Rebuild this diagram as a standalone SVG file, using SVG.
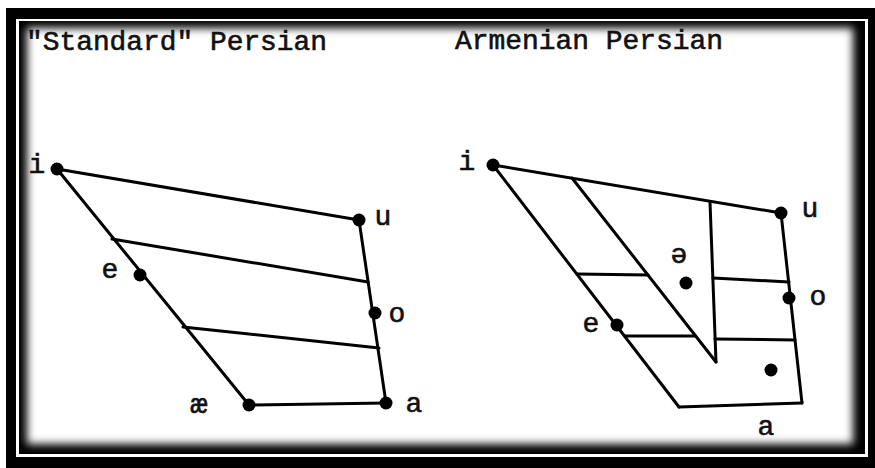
<svg xmlns="http://www.w3.org/2000/svg" width="875" height="468" viewBox="0 0 875 468">
<defs>
<style>
.ln{stroke:#000;stroke-width:3;fill:none;stroke-linecap:round;stroke-linejoin:round}
.dot{fill:#000}
.t{font-family:"Liberation Mono","Courier New",monospace;fill:#111;stroke:#111;stroke-width:0.6}
.title{font-size:27px}
.lab{font-size:28px;text-anchor:middle}
</style>
<filter id="blur" x="-5%" y="-5%" width="110%" height="110%"><feGaussianBlur stdDeviation="4"/></filter>
</defs>
<rect x="0" y="0" width="875" height="468" fill="#fff"/>
<g id="frame">
<rect x="6" y="8" width="869" height="460" fill="#000"/>
<rect x="16" y="19" width="852" height="438" fill="#fff"/>
<rect x="19" y="21" width="846" height="433" fill="#000"/>
<rect x="27" y="28" width="826" height="416" fill="#fff" filter="url(#blur)"/>
</g>
<text class="t title" x="26" y="50" textLength="301" lengthAdjust="spacingAndGlyphs">"Standard" Persian</text>
<text class="t title" x="455" y="49" textLength="268" lengthAdjust="spacingAndGlyphs">Armenian Persian</text>
<g id="connectors">
<line class="ln" x1="57" y1="169" x2="359" y2="220"/>
<line class="ln" x1="57" y1="169" x2="249" y2="405"/>
<line class="ln" x1="359" y1="220" x2="386" y2="403"/>
<line class="ln" x1="249" y1="405" x2="386" y2="403"/>
<line class="ln" x1="112" y1="239" x2="368" y2="282"/>
<line class="ln" x1="183" y1="327" x2="379" y2="348"/>
<line class="ln" x1="493" y1="165" x2="781" y2="213"/>
<line class="ln" x1="493" y1="165" x2="679" y2="407"/>
<line class="ln" x1="679" y1="407" x2="802" y2="403"/>
<line class="ln" x1="781" y1="213" x2="802" y2="403"/>
<line class="ln" x1="572" y1="178" x2="716" y2="362"/>
<line class="ln" x1="710" y1="202" x2="716" y2="362"/>
<line class="ln" x1="577" y1="274" x2="648" y2="275"/>
<line class="ln" x1="713" y1="278" x2="789" y2="282"/>
<line class="ln" x1="625" y1="336" x2="695" y2="336"/>
<line class="ln" x1="715" y1="339" x2="795" y2="340"/>
</g>
<g id="std-i"><circle class="dot" cx="57" cy="169" r="6.5"/><text class="t lab" x="37" y="173">i</text></g>
<g id="std-u"><circle class="dot" cx="359" cy="220" r="6.5"/><text class="t lab" x="383" y="225">u</text></g>
<g id="std-e"><circle class="dot" cx="140" cy="275" r="6.5"/><text class="t lab" x="110" y="278">e</text></g>
<g id="std-o"><circle class="dot" cx="375" cy="313" r="6.5"/><text class="t lab" x="397" y="322">o</text></g>
<g id="std-ae"><circle class="dot" cx="249" cy="405" r="6.5"/><text class="t lab" x="199" y="413">æ</text></g>
<g id="std-a"><circle class="dot" cx="386" cy="403" r="6.5"/><text class="t lab" x="414" y="412">a</text></g>
<g id="arm-i"><circle class="dot" cx="493" cy="165" r="6.5"/><text class="t lab" x="467" y="170">i</text></g>
<g id="arm-u"><circle class="dot" cx="781" cy="213" r="6.5"/><text class="t lab" x="810" y="217">u</text></g>
<g id="arm-o"><circle class="dot" cx="789" cy="298" r="6.5"/><text class="t lab" x="818" y="305">o</text></g>
<g id="arm-e"><circle class="dot" cx="617" cy="325" r="6.5"/><text class="t lab" x="591" y="332">e</text></g>
<g id="arm-schwa"><circle class="dot" cx="686" cy="283" r="6.5"/><text class="t lab" x="679" y="263">ə</text></g>
<g id="arm-a"><circle class="dot" cx="771" cy="370" r="6.5"/><text class="t lab" x="766" y="435">a</text></g>
</svg>
